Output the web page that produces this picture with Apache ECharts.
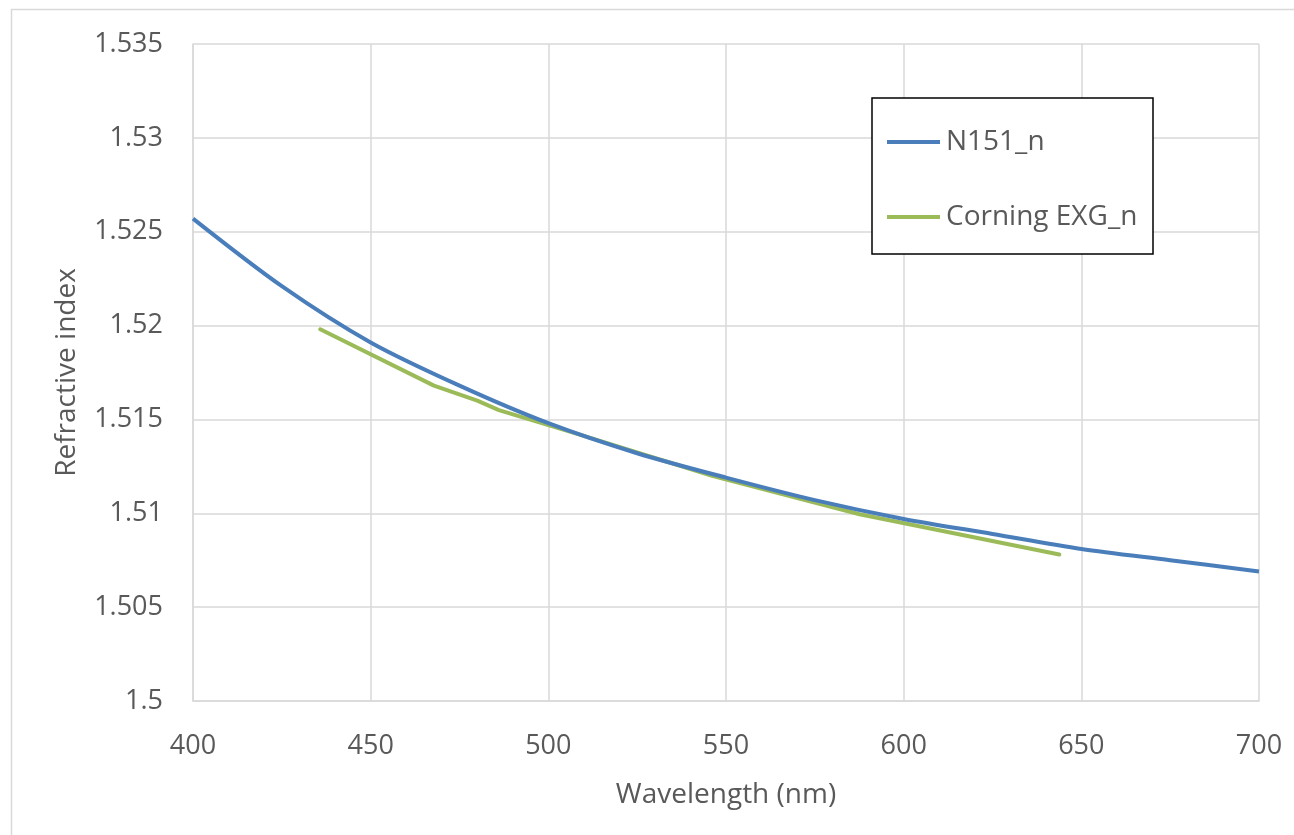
<!DOCTYPE html>
<html>
<head>
<meta charset="utf-8">
<script src="https://cdn.jsdelivr.net/npm/echarts@6/dist/echarts.min.js"></script>
<style>
  html, body { margin: 0; padding: 0; background: #ffffff; }
  #chart { width: 1294px; height: 835px; }
</style>
</head>
<body>
<div id="chart"></div>
<script>
// ---- Data ----
const seriesNames = ['N151_n', 'Corning EXG_n'];

const n151Wavelength = [400, 425, 450, 475, 500, 525, 550, 575, 600, 625, 650, 675, 700];
const n151Index      = [1.5257, 1.5221, 1.5191, 1.5168, 1.5148, 1.5132, 1.5119, 1.5107, 1.5097, 1.5089, 1.5081, 1.5075, 1.5069];

const exgWavelength = [435.8, 467.8, 480.0, 486.1, 508.6, 546.1, 587.6, 643.8];
const exgIndex      = [1.5198, 1.5168, 1.5160, 1.5155, 1.5142, 1.5120, 1.50995, 1.5078];

const xTicks = [400, 450, 500, 550, 600, 650, 700];
const yTickLabels = ['1.5', '1.505', '1.51', '1.515', '1.52', '1.525', '1.53', '1.535'];

const xTitle = 'Wavelength (nm)';
const yTitle = 'Refractive index';

// ---- Chart ----
const FONT = 'Open Sans';
const TEXT = '#595959';
const GRID = '#D9D9D9';
const BLUE = '#4A7EBB';
const GREEN = '#9BBB59';

const chart = echarts.init(document.getElementById('chart'), null, { renderer: 'canvas' });

function pairs(xs, ys) { return xs.map((x, i) => [x, ys[i]]); }

const option = {
  backgroundColor: '#ffffff',
  animation: false,
  textStyle: { fontFamily: FONT },
  grid: { left: 193, right: 35, top: 44, bottom: 134, containLabel: false },
  graphic: [
    {
      type: 'rect', z: -10, silent: true,
      shape: { x: 11.5, y: 9.5, width: 1400, height: 1000 },
      style: { fill: 'none', stroke: GRID, lineWidth: 1.5 }
    },
    {
      type: 'rect', z: 3, silent: true,
      shape: { x: 872, y: 98, width: 281, height: 156 },
      style: { fill: '#ffffff', stroke: '#000000', lineWidth: 1.5 }
    }
  ],
  legend: {
    orient: 'vertical',
    left: 887, top: 127,
    padding: 0,
    itemWidth: 53, itemHeight: 4,
    itemGap: 45,
    z: 10,
    data: [
      { name: seriesNames[0], icon: 'rect', itemStyle: { color: BLUE } },
      { name: seriesNames[1], icon: 'rect', itemStyle: { color: GREEN } }
    ],
    textStyle: { fontFamily: FONT, fontSize: 28, color: TEXT, lineHeight: 30, padding: [0, 0, 0, 1] }
  },
  xAxis: {
    type: 'value', min: 400, max: 700, interval: 50,
    name: xTitle, nameLocation: 'middle', nameGap: 80,
    nameTextStyle: { fontFamily: FONT, fontSize: 28, color: TEXT },
    axisLine: { show: true, lineStyle: { color: GRID, width: 1.5 } },
    axisTick: { show: false },
    axisLabel: { fontFamily: FONT, fontSize: 27, color: TEXT, margin: 32,
      formatter: v => String(xTicks.find(t => Math.abs(t - v) < 1e-6) ?? v) },
    splitLine: { show: true, lineStyle: { color: GRID, width: 1.5 } }
  },
  yAxis: {
    type: 'value', min: 1.5, max: 1.535, interval: 0.005,
    name: yTitle, nameLocation: 'middle', nameGap: 112,
    nameTextStyle: { fontFamily: FONT, fontSize: 28, color: TEXT },
    axisLine: { show: true, lineStyle: { color: GRID, width: 1.5 } },
    axisTick: { show: false },
    axisLabel: { fontFamily: FONT, fontSize: 27, color: TEXT, margin: 30,
      formatter: v => yTickLabels[Math.round((v - 1.5) / 0.005)] },
    splitLine: { show: true, lineStyle: { color: GRID, width: 1.5 } }
  },
  series: [
    {
      name: seriesNames[0], type: 'line', smooth: 0.3,
      symbol: 'none', showSymbol: false,
      data: pairs(n151Wavelength, n151Index),
      lineStyle: { color: BLUE, width: 4 },
      itemStyle: { color: BLUE },
      z: 3
    },
    {
      name: seriesNames[1], type: 'line', smooth: false,
      symbol: 'none', showSymbol: false,
      data: pairs(exgWavelength, exgIndex),
      lineStyle: { color: GREEN, width: 4, cap: 'round' },
      itemStyle: { color: GREEN },
      z: 2
    }
  ]
};

chart.setOption(option);
</script>
</body>
</html>
